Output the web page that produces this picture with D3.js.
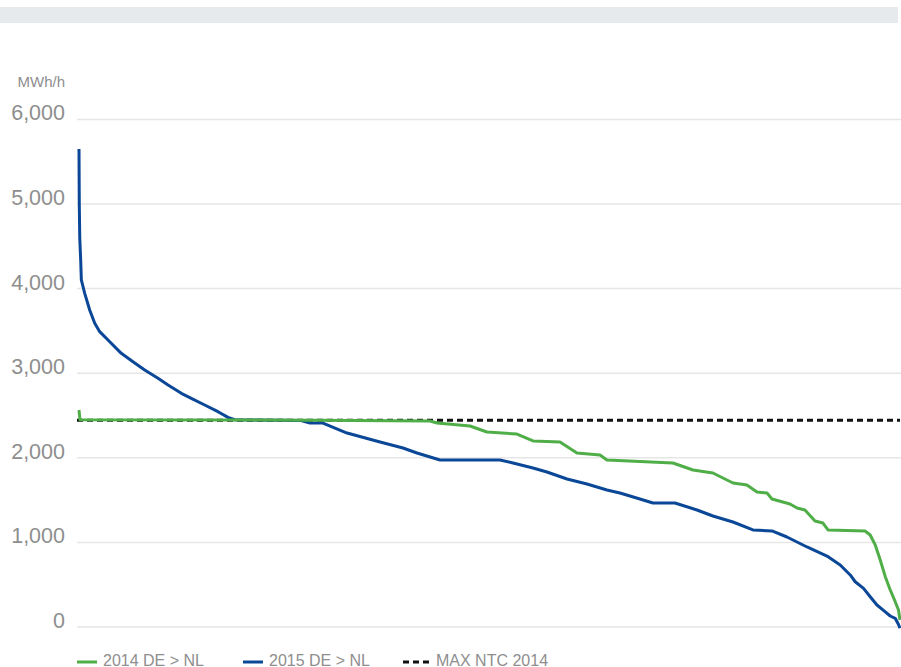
<!DOCTYPE html>
<html>
<head>
<meta charset="utf-8">
<script src="https://cdn.jsdelivr.net/npm/d3@7/dist/d3.min.js"></script>
<style>
  html, body { margin: 0; padding: 0; background: #fff; }
  svg { display: block; font-family: "Liberation Sans", Arial, Helvetica, sans-serif; }
</style>
</head>
<body>
<svg id="chart" width="901" height="667"></svg>
<script>
// ---- Data (duration curves, hours sorted by flow) ----
const yTicks = [0, 1000, 2000, 3000, 4000, 5000, 6000];
const unitLabel = "MWh/h";
const seriesNames = ["2014 DE > NL", "2015 DE > NL", "MAX NTC 2014"];

const hours2015 = [0, 3, 8, 18, 25, 61, 114, 168, 221, 328, 451, 576, 701, 843, 950, 1092, 1198, 1341, 1483, 1590, 1661, 2358, 2465, 2603, 2860, 3212, 3457, 3606, 3852, 4492, 4631, 4844, 4993, 5207, 5420, 5633, 5772, 5985, 6124, 6359, 6594, 6764, 6978, 7191, 7394, 7554, 7768, 7981, 8122, 8229, 8282, 8371, 8442, 8514, 8584, 8656, 8709, 8744, 8760];
const flow2015  = [5650, 5000, 4600, 4338, 4102, 3944, 3747, 3590, 3491, 3372, 3235, 3136, 3038, 2940, 2861, 2762, 2703, 2624, 2545, 2478, 2450, 2442, 2411, 2411, 2293, 2187, 2116, 2057, 1974, 1974, 1939, 1879, 1832, 1749, 1690, 1619, 1584, 1513, 1466, 1466, 1383, 1312, 1241, 1147, 1135, 1064, 946, 839, 733, 615, 535, 457, 358, 260, 197, 130, 103, 30, -15];

const hours2014 = [0, 10, 2500, 3745, 3820, 4172, 4353, 4673, 4844, 5132, 5313, 5559, 5633, 6337, 6551, 6764, 6978, 7127, 7234, 7341, 7394, 7586, 7661, 7746, 7853, 7938, 7992, 8387, 8442, 8496, 8549, 8603, 8656, 8709, 8744, 8760];
const flow2014  = [2565, 2450, 2445, 2435, 2411, 2376, 2305, 2281, 2199, 2187, 2057, 2033, 1974, 1939, 1856, 1820, 1702, 1678, 1596, 1584, 1513, 1454, 1407, 1383, 1253, 1229, 1147, 1135, 1087, 969, 792, 595, 437, 299, 201, 83];

const maxNtc2014 = 2445;
const hoursInYear = 8760;

// ---- Drawing ----
const svg = d3.select("#chart");
const colors = { g2014: "#4fae47", b2015: "#0a4797", ntc: "#111111", grid: "#e6e6e6", text: "#8e8e8e" };

// top band
svg.append("rect").attr("x", 0).attr("y", 7).attr("width", 898).attr("height", 16).attr("fill", "#e7eaed");

const x = d3.scaleLinear().domain([0, hoursInYear]).range([79, 900]);
const y = d3.scaleLinear().domain([0, 6000]).range([627, 119.4]);

// gridlines
svg.append("g").selectAll("line").data(yTicks).join("line")
  .attr("x1", 77).attr("x2", 901)
  .attr("y1", d => y(d)).attr("y2", d => y(d))
  .attr("stroke", colors.grid).attr("stroke-width", 1.5);

// y labels
const fmt = d3.format(",");
svg.append("g").selectAll("text").data(yTicks).join("text")
  .attr("x", 65).attr("y", d => y(d) + 1)
  .attr("text-anchor", "end")
  .attr("font-size", 21.5)
  .attr("fill", colors.text)
  .text(d => fmt(d));

svg.append("text").attr("x", 65).attr("y", 86.5).attr("text-anchor", "end")
  .attr("font-size", 15).attr("fill", colors.text).text(unitLabel);

// NTC dashed line
svg.append("line")
  .attr("x1", 77).attr("x2", 900)
  .attr("y1", y(maxNtc2014)).attr("y2", y(maxNtc2014))
  .attr("stroke", colors.ntc).attr("stroke-width", 3).attr("stroke-dasharray", "6,4");

const line = d3.line().x(d => x(d[0])).y(d => y(d[1]));
const data2015 = hours2015.map((h, i) => [h, flow2015[i]]);
const data2014 = hours2014.map((h, i) => [h, flow2014[i]]);

svg.append("path").datum(data2015).attr("d", line)
  .attr("fill", "none").attr("stroke", colors.b2015).attr("stroke-width", 3).attr("stroke-linejoin", "round");
svg.append("path").datum(data2014).attr("d", line)
  .attr("fill", "none").attr("stroke", colors.g2014).attr("stroke-width", 3).attr("stroke-linejoin", "round");

// legend
const legendItems = [
  { name: seriesNames[0], color: colors.g2014, x0: 77, x1: 97, tx: 103, dash: null },
  { name: seriesNames[1], color: colors.b2015, x0: 243, x1: 263, tx: 269, dash: null },
  { name: seriesNames[2], color: colors.ntc, x0: 403, x1: 429, tx: 436, dash: "6,4" }
];
const lg = svg.append("g").selectAll("g").data(legendItems).join("g");
lg.append("line")
  .attr("x1", d => d.x0).attr("x2", d => d.x1).attr("y1", 662).attr("y2", 662)
  .attr("stroke", d => d.color).attr("stroke-width", 3)
  .attr("stroke-dasharray", d => d.dash);
lg.append("text")
  .attr("x", d => d.tx).attr("y", 665.5)
  .attr("font-size", 16).attr("fill", colors.text)
  .text(d => d.name);
</script>
</body>
</html>
